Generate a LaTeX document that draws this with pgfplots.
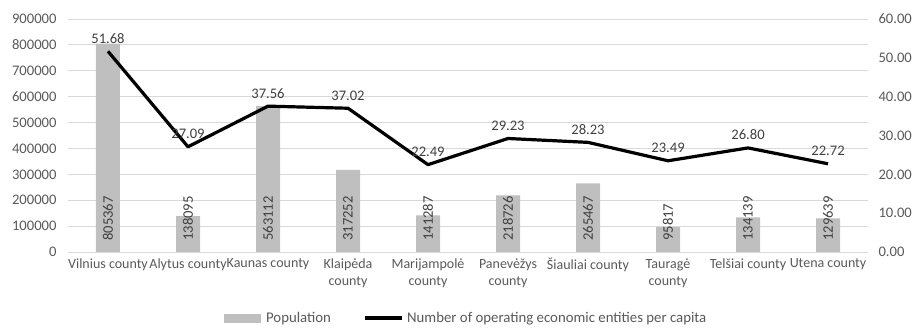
\documentclass[border=0pt]{standalone}
\usepackage{pgfplots}
\pgfplotsset{compat=1.18}
\usepackage{fontspec}
\setmainfont{Carlito}
\definecolor{barc}{HTML}{BFBFBF}
\definecolor{gridc}{HTML}{D9D9D9}
\definecolor{tickc}{HTML}{595959}
\definecolor{labc}{HTML}{404040}
\begin{document}
\begin{tikzpicture}[font=\fontsize{14pt}{17pt}\selectfont]
\pgfplotsset{
  base/.style={
    width=800pt, height=233pt, scale only axis,
    xmin=-0.5, xmax=9.5,
    axis line style={draw=none},
    major tick length=0pt,
    /pgf/number format/assume math mode=true,
    ticklabel style={text=tickc, font=\fontsize{14pt}{17pt}\selectfont},
  }
}
\begin{axis}[base,
  ymin=0, ymax=900000, ytick={0,100000,...,900000},
  scaled y ticks=false,
  yticklabel style={/pgf/number format/fixed, /pgf/number format/1000 sep={}, xshift=-8pt, font=\fontsize{14.6pt}{17pt}\selectfont},
  ymajorgrids, grid style={gridc, line width=0.9pt},
  xtick={0,...,9},
  xticklabels={Vilnius county, Alytus county, Kaunas county, {Klaipėda\\county}, {Marijampolė\\county}, {Panevėžys\\county}, Šiauliai county, {Tauragė\\county}, Telšiai county, Utena county},
  xticklabel style={align=center, yshift=-3pt},
]
\addplot[ybar, bar width=0.3, fill=barc, draw=none,
  nodes near coords={\pgfmathprintnumber[fixed,precision=0,1000 sep={},assume math mode=true]{\pgfplotspointmeta}},
  visualization depends on=y \as \rawy,
  every node near coord/.append style={shift={(axis direction cs:0,-\rawy)}, rotate=90, anchor=west, inner xsep=11pt, text=labc, font=\fontsize{14.6pt}{17pt}\selectfont},
] coordinates {
(0,805367) (1,138095) (2,563112) (3,317252) (4,141287)
(5,218726) (6,265467) (7,95817) (8,134139) (9,129639)
};
\end{axis}
\begin{axis}[base,
  axis y line*=right, axis x line=none,
  ymin=0, ymax=60, ytick={0,10,...,60},
  yticklabel style={/pgf/number format/fixed, /pgf/number format/fixed zerofill, /pgf/number format/precision=2, xshift=7pt, font=\fontsize{14.6pt}{17pt}\selectfont},
  legend columns=2,
  legend style={at={(axis description cs:0.4975,0)}, anchor=center, yshift=-66pt, draw=none, fill=none,
    font=\fontsize{14.8pt}{17pt}\selectfont, text=tickc,
    /tikz/every even column/.append style={column sep=30pt}},
]
\addlegendimage{legend image code/.code={\fill[barc] (0pt,-4pt) rectangle (36pt,4pt); \path (40pt,0pt);}}
\addlegendentry{Population}
\addplot[black, line width=3.2pt, line join=round, mark=none,
  legend image code/.code={\draw[black, line width=3.2pt] (0pt,0pt) -- (37pt,0pt); \path (39pt,0pt);},
  nodes near coords={\pgfmathprintnumber[fixed,fixed zerofill,precision=2,assume math mode=true]{\pgfplotspointmeta}},
  every node near coord/.append style={anchor=south, text=labc, font=\fontsize{14.6pt}{17pt}\selectfont, yshift=3pt},
] coordinates {
(0,51.68) (1,27.09) (2,37.56) (3,37.02) (4,22.49)
(5,29.23) (6,28.23) (7,23.49) (8,26.80) (9,22.72)
};
\addlegendentry{Number of operating economic entities per capita}
\end{axis}
\path (-68pt,-74pt) rectangle (851pt,252pt);
\end{tikzpicture}
\end{document}
